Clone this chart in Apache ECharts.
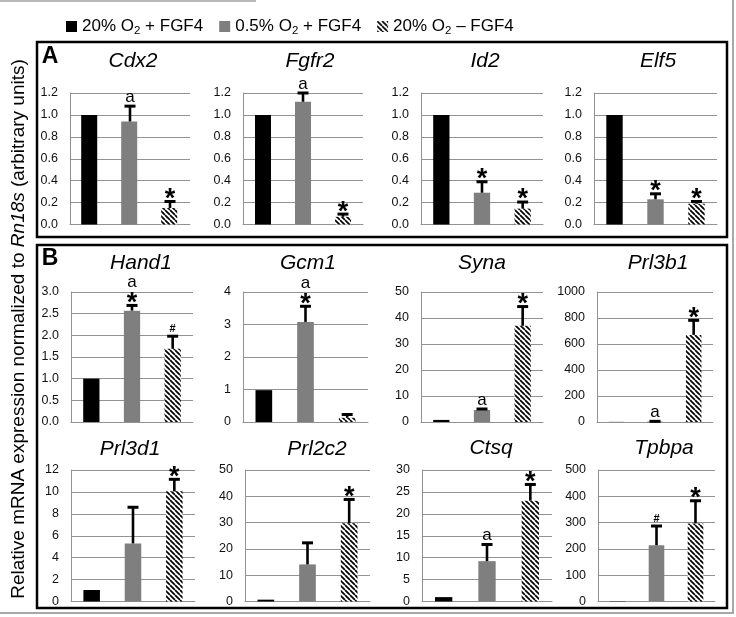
<!DOCTYPE html>
<html><head><meta charset="utf-8">
<script src="https://cdn.jsdelivr.net/npm/echarts@6/dist/echarts.min.js"></script>
<style>html,body{margin:0;padding:0;background:#fff}#c{width:736px;height:617px}</style>
</head><body><div id="c"></div>
<script>
// ---------- DATA ----------
const conditions = ['20% O2 + FGF4', '0.5% O2 + FGF4', '20% O2 – FGF4'];
const genes = ['Cdx2', 'Fgfr2', 'Id2', 'Elf5', 'Hand1', 'Gcm1', 'Syna', 'Prl3b1', 'Prl3d1', 'Prl2c2', 'Ctsq', 'Tpbpa'];

const cdx2 = [1.0, 0.94, 0.15];   const cdx2Err = [0, 0.14, 0.06];  const cdx2Sig = ['', 'a', '*'];
const fgfr2 = [1.0, 1.12, 0.07];  const fgfr2Err = [0, 0.08, 0.025]; const fgfr2Sig = ['', 'a', '*'];
const id2 = [1.0, 0.29, 0.145];   const id2Err = [0, 0.10, 0.06];   const id2Sig = ['', '*', '*'];
const elf5 = [1.0, 0.23, 0.19];   const elf5Err = [0, 0.05, 0.02];  const elf5Sig = ['', '*', '*'];
const hand1 = [1.0, 2.57, 1.69];  const hand1Err = [0, 0.12, 0.29]; const hand1Sig = ['', 'a*', '#'];
const gcm1 = [0.98, 3.08, 0.13];  const gcm1Err = [0, 0.48, 0.10];  const gcm1Sig = ['', 'a*', ''];
const syna = [0.8, 4.6, 37.0];    const synaErr = [0, 0.4, 7.4];    const synaSig = ['', 'a', '*'];
const prl3b1 = [1, 4, 670];       const prl3b1Err = [0, 1, 112];    const prl3b1Sig = ['', 'a', '*'];
const prl3d1 = [1.05, 5.3, 10.05];const prl3d1Err = [0, 3.3, 1.1];  const prl3d1Sig = ['', '', '*'];
const prl2c2 = [0.7, 14.1, 29.8]; const prl2c2Err = [0, 8.2, 9.0];  const prl2c2Sig = ['', '', '*'];
const ctsq = [1.0, 9.2, 23.0];    const ctsqErr = [0, 3.8, 3.7];    const ctsqSig = ['', 'a', '*'];
const tpbpa = [1, 214, 297];      const tpbpaErr = [0, 73, 86];     const tpbpaSig = ['', '#', '*'];

const yMax  = [1.2, 1.2, 1.2, 1.2, 3, 4, 50, 1000, 12, 50, 30, 500];
const yStep = [0.2, 0.2, 0.2, 0.2, 0.5, 1, 10, 200, 2, 10, 5, 100];
const yDec  = [1, 1, 1, 1, 1, 0, 0, 0, 0, 0, 0, 0];

const yTitle = 'Relative mRNA expression normalized to {i|Rn18s} (arbitrary units)';
const panelLetters = ['A', 'B'];

const values = [cdx2, fgfr2, id2, elf5, hand1, gcm1, syna, prl3b1, prl3d1, prl2c2, ctsq, tpbpa];
const errors = [cdx2Err, fgfr2Err, id2Err, elf5Err, hand1Err, gcm1Err, synaErr, prl3b1Err, prl3d1Err, prl2c2Err, ctsqErr, tpbpaErr];
const sigs = [cdx2Sig, fgfr2Sig, id2Sig, elf5Sig, hand1Sig, gcm1Sig, synaSig, prl3b1Sig, prl3d1Sig, prl2c2Sig, ctsqSig, tpbpaSig];

// ---------- LAYOUT ----------
const FONT = 'Liberation Sans, Arial, Helvetica, sans-serif';
const layout = [
  {l: 70, r: 190, t: 93, b: 224.5, tx: 133, ty: 61},
  {l: 243, r: 363, t: 93, b: 224.5, tx: 310, ty: 61},
  {l: 421, r: 543, t: 93, b: 224.5, tx: 485, ty: 61},
  {l: 594, r: 717, t: 93, b: 224.5, tx: 658, ty: 61},
  {l: 71, r: 193, t: 292, b: 422, tx: 141, ty: 263},
  {l: 243, r: 368, t: 292, b: 422, tx: 308, ty: 263},
  {l: 421, r: 543, t: 292, b: 422, tx: 482, ty: 263},
  {l: 597, r: 713, t: 292, b: 422, tx: 658, ty: 263},
  {l: 71, r: 195, t: 470, b: 601.5, tx: 130, ty: 449},
  {l: 245, r: 370, t: 470, b: 601.5, tx: 317, ty: 449},
  {l: 422, r: 552, t: 470, b: 601.5, tx: 491, ty: 448},
  {l: 598, r: 715, t: 470, b: 601.5, tx: 664, ty: 448}
];

function hatchCanvas() {
  const s = 5;
  const c = document.createElement('canvas'); c.width = s; c.height = s;
  const g = c.getContext('2d');
  g.fillStyle = '#fff'; g.fillRect(0, 0, s, s);
  g.strokeStyle = '#000'; g.lineWidth = 1.7;
  for (let k = -1; k <= 1; k++) { g.beginPath(); g.moveTo(k * s, 0); g.lineTo(k * s + s, s); g.stroke(); }
  return c;
}
const hatch = {image: hatchCanvas(), repeat: 'repeat'};
const colors = ['#000000', '#7f7f7f', hatch];

const glyph = {
  '*': {font: 'bold 27px ' + FONT, h: 10, off: 6, gap: 4},
  'a': {font: '17px ' + FONT, h: 9, off: -1.5, gap: 4},
  '#': {font: 'bold 11px ' + FONT, h: 8, off: 0, gap: 3}
};

function makeErr(vals, errs, sig) {
  return function (params, api) {
    const k = params.dataIndex;
    const v = vals[k], e = errs[k], s = sig[k];
    const base = api.coord([k, v]);
    const top = api.coord([k, v + e]);
    const children = [];
    if (e > 0) {
      children.push({type: 'line', shape: {x1: base[0], y1: base[1], x2: top[0], y2: top[1]}, style: {stroke: '#000', lineWidth: 2.6}});
      children.push({type: 'line', shape: {x1: top[0] - 5.5, y1: top[1], x2: top[0] + 5.5, y2: top[1]}, style: {stroke: '#000', lineWidth: 3}});
    }
    let y = top[1] - 3;
    for (let j = s.length - 1; j >= 0; j--) {
      const m = glyph[s[j]];
      children.push({type: 'text', x: top[0], y: y - m.h / 2 + m.off,
        style: {text: s[j], font: m.font, align: 'center', verticalAlign: 'middle', fill: '#000'}});
      y -= m.h + m.gap;
    }
    return {type: 'group', children};
  };
}

const grid = [], xAxis = [], yAxis = [], series = [], graphic = [];
genes.forEach((g, i) => {
  const L = layout[i];
  grid.push({left: L.l, top: L.t, width: L.r - L.l, height: L.b - L.t, containLabel: false, outerBoundsMode: 'none'});
  xAxis.push({type: 'category', gridIndex: i, data: conditions, axisLabel: {show: false}, axisTick: {show: false},
    axisLine: {show: true, lineStyle: {color: '#929292', width: 1}}, splitLine: {show: false}});
  const dec = yDec[i];
  yAxis.push({type: 'value', gridIndex: i, min: 0, max: yMax[i], interval: yStep[i],
    axisLine: {show: true, lineStyle: {color: '#929292', width: 1}}, axisTick: {show: false},
    splitLine: {show: true, lineStyle: {color: '#929292', width: 1}},
    axisLabel: {formatter: v => v.toFixed(dec), fontSize: 12.5, fontFamily: FONT, color: '#111', margin: 12}});
  series.push({type: 'bar', xAxisIndex: i, yAxisIndex: i, barWidth: '40%', silent: true,
    data: values[i].map((v, k) => ({value: v, itemStyle: {color: colors[k]}}))});
  series.push({type: 'custom', xAxisIndex: i, yAxisIndex: i, silent: true, z: 5,
    renderItem: makeErr(values[i], errors[i], sigs[i]),
    data: values[i].map((v, k) => [k, v])});
  graphic.push({type: 'text', x: L.tx, y: L.ty, style: {text: g, font: 'italic 21px ' + FONT, align: 'center', verticalAlign: 'middle', fill: '#000'}});
});

// legend-only series
conditions.forEach((c, k) => {
  series.push({type: 'bar', name: c, xAxisIndex: 0, yAxisIndex: 0, data: [], itemStyle: {color: colors[k]}});
});

// boxes, letters, frame, y title
graphic.push({type: 'rect', shape: {x: 37, y: 42, width: 690, height: 195}, style: {fill: 'none', stroke: '#000', lineWidth: 2.5}});
graphic.push({type: 'rect', shape: {x: 37, y: 245, width: 690, height: 363}, style: {fill: 'none', stroke: '#000', lineWidth: 2.5}});
graphic.push({type: 'text', x: 50, y: 57, style: {text: panelLetters[0], font: 'bold 23px ' + FONT, align: 'center', verticalAlign: 'middle', fill: '#000'}});
graphic.push({type: 'text', x: 50, y: 259, style: {text: panelLetters[1], font: 'bold 23px ' + FONT, align: 'center', verticalAlign: 'middle', fill: '#000'}});
graphic.push({type: 'polyline', shape: {points: [[733, 0], [733, 613], [0, 613]]}, style: {fill: 'none', stroke: '#a8a8a8', lineWidth: 2}});
graphic.push({type: 'line', shape: {x1: 0, y1: 1, x2: 256, y2: 1}, style: {stroke: '#b8b8b8', lineWidth: 2}});
graphic.push({type: 'text', x: 19, y: 329, rotation: Math.PI / 2,
  style: {text: yTitle, font: '19px ' + FONT, align: 'center', verticalAlign: 'middle', fill: '#000',
    rich: {i: {fontStyle: 'italic', fontSize: 19, fontFamily: FONT}}}});

const chart = echarts.init(document.getElementById('c'), null, {renderer: 'canvas'});
chart.setOption({
  animation: false,
  backgroundColor: '#fff',
  legend: {
    data: conditions, left: 61, top: 13, itemWidth: 11, itemHeight: 11, itemGap: 16, icon: 'rect',
    selectedMode: false,
    formatter: n => n.replace('O2', 'O{s|2}'),
    textStyle: {fontSize: 17, fontFamily: FONT, color: '#000',
      rich: {s: {fontSize: 11.5, fontFamily: FONT, color: '#000', padding: [8, 0, 0, 0]}}}
  },
  grid, xAxis, yAxis, series, graphic
});
</script></body></html>
